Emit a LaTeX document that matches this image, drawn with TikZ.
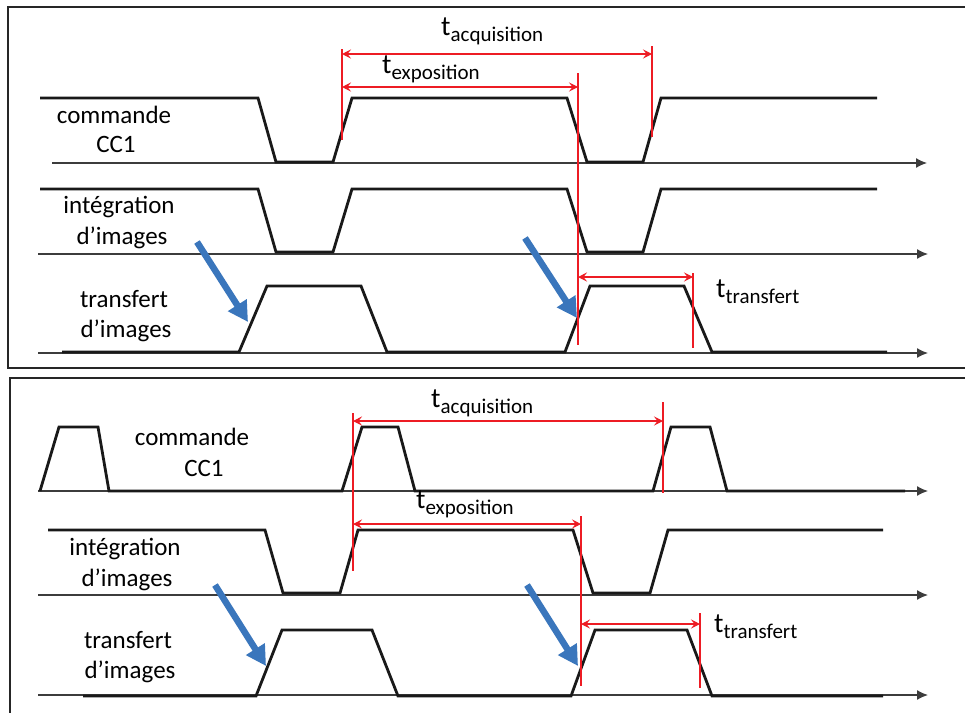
\documentclass[tikz,border=0pt]{standalone}
\usepackage{fontspec}
\setmainfont{Carlito}
\usetikzlibrary{arrows.meta}
\definecolor{sigred}{RGB}{237,28,36}
\definecolor{sigblue}{RGB}{58,118,188}
\definecolor{axisgray}{RGB}{60,60,60}
\newcommand{\tlab}[1]{{\fontsize{28}{30}\selectfont t}{\fontsize{21}{24}\selectfont\raisebox{-6pt}{#1}}}
\begin{document}
\begin{tikzpicture}[x=1pt,y=-1pt,
  signal/.style={line width=2.8pt,color=black!90,line join=miter},
  axisline/.style={line width=1.3pt,color=axisgray,-{Latex[length=11pt,width=10pt]}},
  frame/.style={line width=2.4pt,color=black!85},
  guide/.style={line width=1.1pt,color=sigred},
  dim/.style={line width=1.1pt,color=sigred,{Stealth[length=9pt,width=9pt,inset=3.5pt]}-{Stealth[length=9pt,width=9pt,inset=3.5pt]}},
  pointer/.style={line width=6.5pt,color=sigblue,-{Triangle[length=20pt,width=21pt]}},
  lab/.style={font=\fontsize{25}{30}\selectfont,inner sep=0pt,anchor=base},
  tl/.style={inner sep=0pt,anchor=base west}]
\clip (0,0) rectangle (965,712);
\fill[white] (0,0) rectangle (965,712);
% frames
\draw[frame] (8,7) rectangle (985,368);
\draw[frame] (10,378) rectangle (985,730);

% ===== top panel =====
\draw[axisline] (52,163) -- (927,163);
\draw[axisline] (38,254) -- (928,254);
\draw[axisline] (38,353) -- (928,353);
\draw[signal] (40,98)--(258,98)--(276,162)--(333,162)--(352,98)--(567,98)--(587,162)--(643,162)--(661,98)--(877,98);
\draw[signal] (40,189)--(258,189)--(276,252)--(333,252)--(352,189)--(567,189)--(587,252)--(643,252)--(661,189)--(877,189);
\draw[signal] (62,352)--(239,352)--(267,286)--(361,286)--(387,352)--(565,352)--(590,286)--(684,286)--(712,352)--(887,352);

\node[lab] (tc1) at (114,123) {commande};
\node[lab] (tc2) at (116,152) {CC1};
\node[lab] (ti1) at (119,213) {intégration};
\node[lab] (ti2) at (122,244) {d’images};
\node[lab] (tt1) at (124,307) {transfert};
\node[lab] (tt2) at (126,337) {d’images};

% red guides top
\coordinate (ga1) at (342,49); \coordinate (ga2) at (342,140);
\coordinate (gb1) at (652,46); \coordinate (gb2) at (652,137);
\coordinate (gc1) at (578,73); \coordinate (gc2) at (578,345);
\coordinate (gd1) at (693,273); \coordinate (gd2) at (693,348);
\draw[guide] (ga1) -- (ga2);
\draw[guide] (gb1) -- (gb2);
\draw[guide] (gc1) -- (gc2);
\draw[guide] (gd1) -- (gd2);
\coordinate (aL) at (342,54); \coordinate (aR) at (652,54);
\coordinate (eL) at (342,87); \coordinate (eR) at (578,87);
\coordinate (xL) at (578,277); \coordinate (xR) at (693,277);
\draw[dim] (aL) -- (aR);
\draw[dim] (eL) -- (eR);
\draw[dim] (xL) -- (xR);
\node[tl] (tacq) at (441,35) {\tlab{acquisition}};
\node[tl] (texp) at (382,73) {\tlab{exposition}};
\node[tl] (ttra) at (716,297) {\tlab{transfert}};

% blue pointers top
\coordinate (p1s) at (197,242); \coordinate (p1e) at (248,322);
\coordinate (p2s) at (525,238); \coordinate (p2e) at (577,318);
\draw[pointer] (p1s) -- (p1e);
\draw[pointer] (p2s) -- (p2e);

% ===== bottom panel =====
\draw[axisline] (38,491) -- (928,491);
\draw[axisline] (38,595) -- (928,595);
\draw[axisline] (38,695) -- (928,695);
\draw[signal] (40,491)--(59,427)--(98,427)--(109,491)--(342,491)--(362,427)--(398,427)--(415,491)--(653,491)--(671,427)--(710,427)--(727,491)--(905,491);
\draw[signal] (48,530)--(265,530)--(283,593)--(340,593)--(358,530)--(573,530)--(593,593)--(650,593)--(668,530)--(883,530);
\draw[signal] (83,696)--(256,696)--(282,630)--(372,630)--(398,696)--(571,696)--(595,630)--(687,630)--(712,696)--(883,696);

\node[lab] (bc1) at (192,445) {commande};
\node[lab] (bc2) at (204,476) {CC1};
\node[lab] (bi1) at (125,555) {intégration};
\node[lab] (bi2) at (127,586) {d’images};
\node[lab] (bt1) at (128,648) {transfert};
\node[lab] (bt2) at (130,678) {d’images};

% red guides bottom
\coordinate (ha1) at (353,413); \coordinate (ha2) at (353,571);
\coordinate (hb1) at (663,402); \coordinate (hb2) at (663,493);
\coordinate (hc1) at (581,516); \coordinate (hc2) at (581,686);
\coordinate (hd1) at (700,613); \coordinate (hd2) at (700,688);
\draw[guide] (ha1) -- (ha2);
\draw[guide] (hb1) -- (hb2);
\draw[guide] (hc1) -- (hc2);
\draw[guide] (hd1) -- (hd2);
\coordinate (baL) at (353,421); \coordinate (baR) at (663,421);
\coordinate (beL) at (353,524); \coordinate (beR) at (581,524);
\coordinate (bxL) at (581,624); \coordinate (bxR) at (700,624);
\draw[dim] (baL) -- (baR);
\draw[dim] (beL) -- (beR);
\draw[dim] (bxL) -- (bxR);
\node[tl] (bacq) at (431,407) {\tlab{acquisition}};
\node[tl] (bexp) at (416,508) {\tlab{exposition}};
\node[tl] (btra) at (714,632) {\tlab{transfert}};

% blue pointers bottom
\coordinate (q1s) at (215,585); \coordinate (q1e) at (266,666);
\coordinate (q2s) at (527,585); \coordinate (q2e) at (578,666);
\draw[pointer] (q1s) -- (q1e);
\draw[pointer] (q2s) -- (q2e);
\end{tikzpicture}
\end{document}
